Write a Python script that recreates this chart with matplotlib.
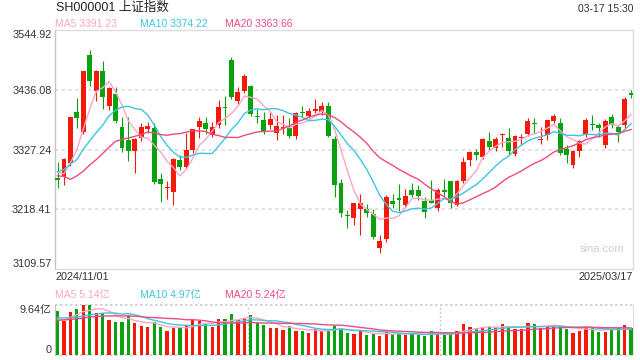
import numpy as np
import matplotlib
matplotlib.use('Agg')
import matplotlib.pyplot as plt

plt.rcParams['font.family'] = ['Liberation Sans', 'Noto Sans CJK SC', 'DejaVu Sans']

# daily candles of SH000001, 2024/11/01 .. 2025/03/17 (90 sessions)
opens = [3276, 3277, 3302, 3395, 3360, 3500, 3434, 3470, 3406, 3428,
         3369, 3345, 3324, 3348, 3364, 3366, 3273, 3257, 3250, 3308,
         3295, 3326, 3368, 3376, 3354, 3372, 3405, 3490, 3416, 3433,
         3443, 3389, 3381, 3371, 3357, 3365, 3367, 3352, 3395, 3388,
         3398, 3396, 3406, 3347, 3267, 3208, 3203, 3218, 3218, 3210,
         3148, 3164, 3234, 3238, 3226, 3254, 3254, 3233, 3236, 3221,
         3254, 3270, 3227, 3269, 3308, 3323, 3313, 3343, 3330, 3353,
         3349, 3319, 3349, 3356, 3375, 3344, 3353, 3380, 3375, 3328,
         3299, 3325, 3354, 3374, 3372, 3335, 3386, 3368, 3371, 3431]
highs = [3305, 3312, 3387, 3421, 3471, 3509, 3472, 3489, 3442, 3441,
         3387, 3387, 3348, 3376, 3377, 3376, 3285, 3270, 3312, 3317,
         3357, 3365, 3387, 3387, 3378, 3417, 3424, 3495, 3442, 3465,
         3445, 3401, 3396, 3396, 3390, 3390, 3384, 3395, 3406, 3402,
         3419, 3413, 3414, 3351, 3273, 3217, 3230, 3246, 3228, 3218,
         3171, 3244, 3246, 3264, 3255, 3267, 3262, 3240, 3272, 3258,
         3273, 3270, 3272, 3313, 3324, 3328, 3348, 3360, 3350, 3358,
         3366, 3354, 3356, 3384, 3384, 3368, 3381, 3392, 3385, 3336,
         3326, 3344, 3384, 3390, 3375, 3382, 3392, 3372, 3423, 3436]
lows = [3258, 3262, 3298, 3366, 3355, 3443, 3416, 3401, 3400, 3375,
        3322, 3306, 3284, 3343, 3358, 3265, 3232, 3237, 3226, 3290,
        3292, 3320, 3348, 3356, 3350, 3366, 3372, 3420, 3410, 3430,
        3389, 3375, 3356, 3365, 3345, 3356, 3348, 3347, 3386, 3384,
        3393, 3390, 3350, 3241, 3205, 3185, 3190, 3172, 3204, 3164,
        3139, 3158, 3220, 3215, 3220, 3240, 3236, 3202, 3229, 3215,
        3242, 3220, 3224, 3266, 3298, 3308, 3310, 3326, 3324, 3332,
        3318, 3316, 3336, 3352, 3358, 3338, 3345, 3375, 3318, 3303,
        3293, 3314, 3350, 3363, 3350, 3330, 3366, 3341, 3364, 3421]
closes = [3272.01, 3310.21, 3386.99, 3383.81, 3470.07, 3452.30, 3470.66, 3421.97, 3439.28, 3379.84,
          3330.73, 3323.85, 3346.01, 3367.99, 3370.40, 3267.19, 3263.76, 3259.76, 3309.78, 3295.70,
          3326.46, 3363.98, 3378.81, 3364.65, 3368.86, 3404.08, 3402.53, 3422.66, 3432.49, 3461.50,
          3391.88, 3386.33, 3361.49, 3382.21, 3370.03, 3368.07, 3351.88, 3393.53, 3393.35, 3398.08,
          3400.14, 3407.33, 3351.76, 3262.56, 3211.43, 3206.92, 3229.64, 3230.17, 3211.39, 3168.52,
          3160.76, 3240.94, 3227.12, 3236.03, 3241.82, 3244.38, 3242.62, 3213.62, 3230.16, 3252.63,
          3250.60, 3229.49, 3270.66, 3303.67, 3322.17, 3318.06, 3346.39, 3332.48, 3346.72, 3355.83,
          3324.49, 3351.54, 3350.78, 3379.11, 3373.03, 3346.04, 3380.21, 3388.06, 3320.90, 3316.93,
          3324.21, 3341.96, 3381.10, 3372.55, 3366.16, 3379.83, 3371.92, 3358.73, 3419.56, 3426.43]
# volume, in 亿
volumes = [8.48, 6.60, 8.29, 8.87, 9.64, 9.55, 8.16, 8.16, 6.75, 6.36,
           6.36, 7.52, 6.23, 5.59, 5.40, 6.30, 5.40, 4.69, 5.20, 5.20,
           5.65, 6.75, 6.60, 6.10, 5.40, 6.94, 6.94, 7.90, 6.75, 7.00,
           7.71, 6.23, 5.85, 5.20, 5.20, 4.88, 5.65, 4.63, 4.63, 4.30,
           4.95, 4.63, 4.95, 5.59, 5.14, 4.30, 4.05, 4.69, 3.86, 4.05,
           3.66, 4.50, 4.05, 4.18, 3.86, 4.18, 3.86, 3.66, 4.63, 4.05,
           3.92, 4.18, 4.63, 5.98, 5.40, 5.14, 5.27, 5.46, 5.40, 5.98,
           5.33, 5.01, 5.01, 6.17, 5.98, 5.20, 5.46, 5.85, 5.65, 5.01,
           4.30, 4.69, 5.40, 5.20, 4.50, 4.50, 4.95, 5.20, 5.78, 5.27]

# the 19 sessions before the window, only used to start the moving averages
prev_closes = [3336.50, 3489.78, 3258.86, 3301.93, 3217.74, 3284.32, 3201.29, 3202.95, 3169.38, 3261.56,
               3268.11, 3285.87, 3302.80, 3280.26, 3299.70, 3322.20, 3286.41, 3266.24, 3279.82]
prev_volumes = [5.5, 6.0, 6.5, 6.8, 6.2, 6.0, 5.8, 6.5, 6.1, 6.6,
                7.2, 7.8, 7.5, 7.6, 7.4, 6.9, 6.3, 6.2, 6.6]

price_ticks = [3109.57, 3218.41, 3327.24, 3436.08, 3544.92]
price_ma_text = ['MA5 3391.23', 'MA10 3374.22', 'MA20 3363.66']
vol_ma_text = ['MA5 5.14亿', 'MA10 4.97亿', 'MA20 5.24亿']
vol_max = 9.64
first_date = '2024/11/01'
last_date = '2025/03/17'

RED = '#f31a0c'
GREEN = '#08a20e'
MA_COLORS = ['#fca6c4', '#3ec6e0', '#f04a80']
GRID = '#dcdcdc'


def moving_avg(prev, vals, n):
    arr = np.array(prev + vals, dtype=float)
    return np.convolve(arr, np.ones(n) / n, 'valid')[-len(vals):]


def fx(px):
    return px / 640


def fy(py):
    return 1 - py / 360


o = np.array(opens)
h = np.array(highs)
l = np.array(lows)
c = np.array(closes)
x = np.arange(len(c))
up = c >= o
colors = np.where(up, RED, GREEN)

fig = plt.figure(figsize=(6.4, 3.6), dpi=100)
ax = fig.add_axes([fx(55), fy(269), fx(578), 239 / 360])
vax = fig.add_axes([fx(55), fy(355), fx(578), 50 / 360])

xlim = (-0.39, len(c) - 1 + 0.31)

# price panel
ax.vlines(x, l, h, colors=colors, linewidth=0.8, zorder=2)
body = np.maximum(np.abs(c - o), 1.3)
ax.bar(x, body, bottom=np.minimum(o, c), width=0.76, color=colors, zorder=3)
for n, col in zip([5, 10, 20], MA_COLORS):
    ax.plot(x, moving_avg(prev_closes, closes, n), color=col, lw=1.0, zorder=4)

ax.set_xlim(*xlim)
ax.set_ylim(price_ticks[0], price_ticks[-1])
ax.set_xticks([])
ax.set_yticks(price_ticks)
ax.set_yticklabels(['%.2f' % t for t in price_ticks])
ax.tick_params(axis='y', length=0, pad=2.5, labelsize=7.8, labelcolor='#333333')
labs = ax.get_yticklabels()
labs[0].set_va('bottom')
labs[-1].set_va('top')
for t in price_ticks[1:-1]:
    ax.axhline(t, color=GRID, lw=1.2, ls=(0, (2, 2)), zorder=1)
for side in ['top', 'right', 'bottom']:
    ax.spines[side].set_color('#dddddd')
ax.spines['left'].set_color('#c4c4c4')
for sp in ax.spines.values():
    sp.set_linewidth(1.0)

# volume panel
vax.bar(x, volumes, width=0.5, color=colors, zorder=2)
for n, col in zip([5, 10, 20], MA_COLORS):
    vax.plot(x, moving_avg(prev_volumes, volumes, n), color=col, lw=1.0, zorder=3)
vax.set_xlim(*xlim)
vax.set_ylim(0, vol_max)
vax.set_xticks([])
vax.set_yticks([0, vol_max])
vax.set_yticklabels(['0', '%.2f亿' % vol_max])
vax.tick_params(axis='y', length=0, pad=2.5, labelsize=7.8, labelcolor='#333333')
vl = vax.get_yticklabels()
vl[0].set_va('bottom')
vl[1].set_va('top')
vax.spines['top'].set_visible(False)
vax.spines['bottom'].set_visible(False)
vax.spines['left'].set_color('#c4c4c4')
vax.spines['right'].set_color('#dddddd')
for yv in [0, vol_max]:
    vax.axhline(yv, color='#cccccc', lw=1.2, ls=(0, (1.5, 1.5)), clip_on=False, zorder=1)
span = xlim[1] - xlim[0]
for k in [1, 2]:
    vax.axvline(xlim[0] + span * k / 3, color='#cccccc', lw=1.0, ls=(0, (1.5, 1.5)), zorder=1)

# texts
fig.text(fx(56), fy(8), 'SH000001 上证指数', fontsize=9, color='#222222', va='center')
fig.text(fx(633), fy(9), '03-17 15:30', fontsize=7.5, color='#333333', va='center', ha='right')
for txt, px, col in zip(price_ma_text, [55, 140, 225], MA_COLORS):
    fig.text(fx(px), fy(24), txt, fontsize=7.5, color=col, va='center')
for txt, px, col in zip(vol_ma_text, [55, 140, 225], MA_COLORS):
    fig.text(fx(px), fy(295), txt, fontsize=7.5, color=col, va='center')
fig.text(fx(55), fy(277), first_date, fontsize=7.8, color='#333333', va='center')
fig.text(fx(633), fy(277), last_date, fontsize=7.8, color='#333333', va='center', ha='right')
fig.text(fx(602), fy(249), 'sina.com', fontsize=8, color='#cfcfcf', va='center', ha='center')

fig.savefig('out.png', dpi=100)
